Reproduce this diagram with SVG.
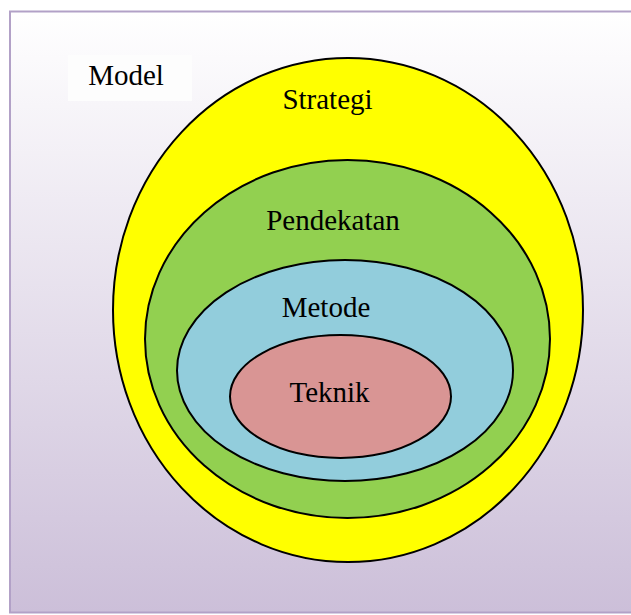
<svg xmlns="http://www.w3.org/2000/svg" width="631" height="615" viewBox="0 0 631 615">
<style>
.ring{stroke:#000;stroke-width:2}
.t{font-family:"Liberation Serif",serif;font-size:29px;fill:#000;text-anchor:middle}
</style>
<defs>
<linearGradient id="bg" x1="0" y1="0" x2="0" y2="1">
<stop offset="0" stop-color="#ffffff"/>
<stop offset="1" stop-color="#ccbfd9"/>
</linearGradient>
</defs>
<rect x="10" y="11.5" width="630" height="601" fill="url(#bg)" stroke="#b2a1c7" stroke-width="2"/>
<g id="model">
<rect x="68" y="55" width="124" height="46" fill="#fdfdfd"/>
<text class="t" x="126" y="85">Model</text>
</g>
<g id="strategi">
<ellipse class="ring" cx="348" cy="310" rx="235" ry="252" fill="#ffff00"/>
<text class="t" x="327.5" y="109">Strategi</text>
</g>
<g id="pendekatan">
<ellipse class="ring" cx="347.5" cy="339" rx="202.5" ry="179" fill="#92d050"/>
<text class="t" x="333" y="230">Pendekatan</text>
</g>
<g id="metode">
<ellipse class="ring" cx="345" cy="370.5" rx="168" ry="110.5" fill="#92cddc"/>
<text class="t" x="326" y="317">Metode</text>
</g>
<g id="teknik">
<ellipse class="ring" cx="340.5" cy="396.5" rx="110.5" ry="61.5" fill="#d99594"/>
<text class="t" x="329.5" y="402">Teknik</text>
</g>
<g id="connectors"/>
</svg>
